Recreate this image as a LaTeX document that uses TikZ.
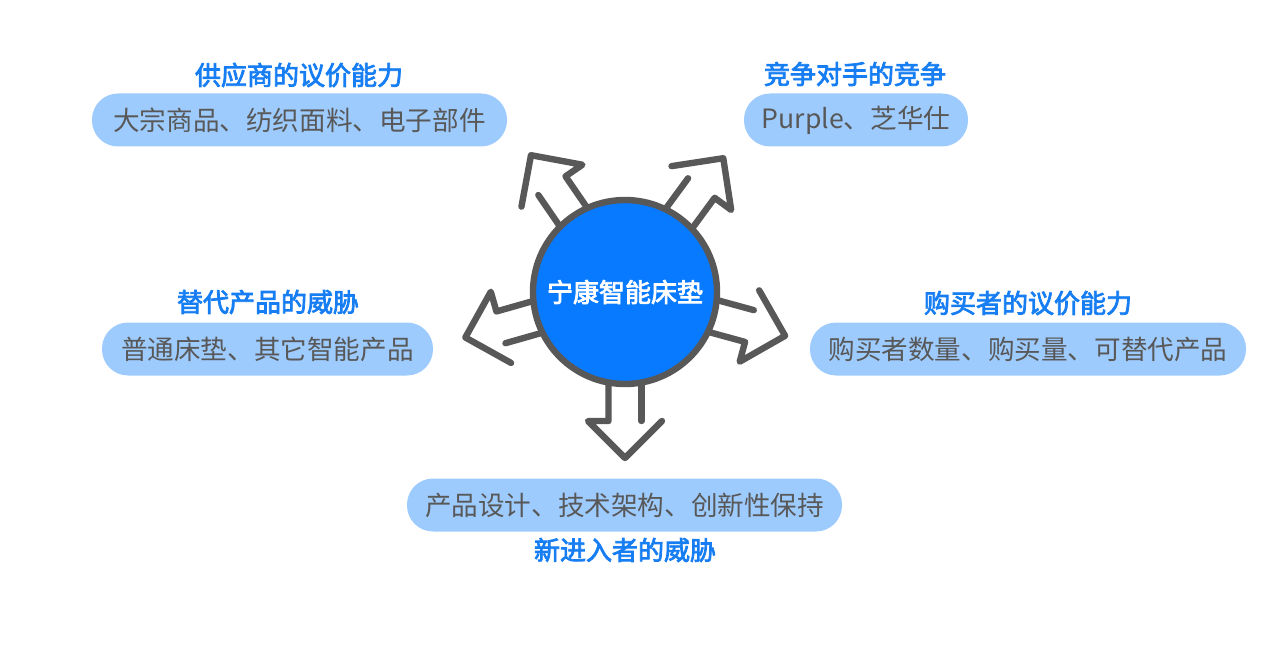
\documentclass[tikz,border=0pt]{standalone}
\usepackage{fontspec}
\newfontfamily\cjk{Noto Sans CJK SC}
\newfontfamily\cjkmed[FakeBold=3]{Noto Sans CJK SC}
\definecolor{hubblue}{RGB}{8,122,255}
\definecolor{pillblue}{RGB}{158,203,253}
\definecolor{darkgrey}{RGB}{88,88,88}
\definecolor{titleblue}{RGB}{22,126,242}

\begin{document}
\begin{tikzpicture}[x=0.5pt,y=-0.5pt,
    pill/.style={fill=pillblue, rounded corners=13pt, minimum height=26.5pt, inner sep=0pt,
      text=darkgrey, font=\cjk\fontsize{13.3}{16}\selectfont},
    ttl/.style={text=titleblue, inner sep=0pt, font=\cjkmed\fontsize{13}{16}\selectfont},
    shaft/.style={draw=darkgrey, line width=3.2pt, line cap=round, line join=round}]
    \useasboundingbox (0,0) rectangle (1265,647);
    % open arrows round the hub
    \foreach \ang in {-124.5,-53.7,15.3,90,164.1}{
      \begin{scope}[shift={(625,292)}, rotate=-\ang]
        \draw[shaft] (85,16.5) -- (129,16.5) -- (129,37) -- (166,0) -- (129,-37);
        \draw[shaft] (85,-16.5) -- (129,-16.5);
      \end{scope}
    }
    \node[circle, fill=hubblue, draw=darkgrey, line width=3.2pt, minimum size=92pt, inner sep=0pt,
      text=white, font=\cjkmed\fontsize{13}{16}\selectfont] (hub) at (625,292) {宁康智能床垫};
    % five forces
    \node[pill, minimum width=207.5pt] (supp) at (299.5,120) {大宗商品、纺织面料、电子部件};
    \node[ttl] (suppT) at (299,75) {供应商的议价能力};
    \node[pill, minimum width=112pt] (rival) at (856,120) {Purple、芝华仕};
    \node[ttl] (rivalT) at (855,74) {竞争对手的竞争};
    \node[pill, minimum width=165.5pt] (subst) at (267.5,349) {普通床垫、其它智能产品};
    \node[ttl] (substT) at (268,302) {替代产品的威胁};
    \node[pill, minimum width=218pt] (buyer) at (1028,349) {购买者数量、购买量、可替代产品};
    \node[ttl] (buyerT) at (1028,303) {购买者的议价能力};
    \node[pill, minimum width=217.5pt] (entry) at (624.5,505) {产品设计、技术架构、创新性保持};
    \node[ttl] (entryT) at (625,550) {新进入者的威胁};
  \end{tikzpicture}
\end{document}
